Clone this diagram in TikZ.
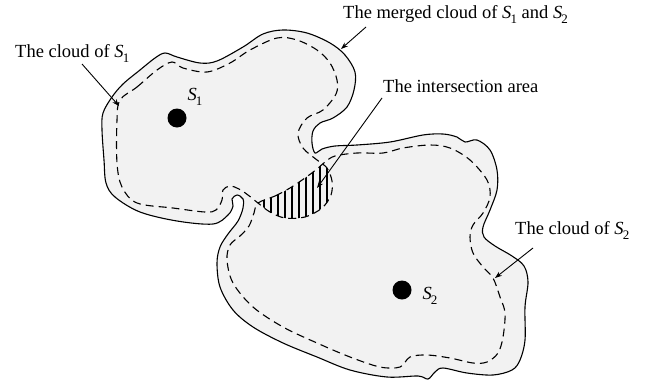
\documentclass[tikz,border=0pt]{standalone}
\usepackage{fontspec}
\setmainfont{Liberation Serif}
\usetikzlibrary{arrows.meta}
\def\SSub#1{\textit{S}\kern-0.8pt\raisebox{-0.28em}{\fontsize{13}{13}\selectfont #1}}
\def\mergedPath{plot[smooth cycle, tension=0.55] coordinates {
(103,113) (112,97) (123,84) (140,70) (155,58) (165,53) (177,57) (200,63) (217,61) (243,47) (263,34) (283,30) (307,33) (330,43) (345,55) (355,72) (354,90) (347,107) (333,118) (320,123) (313,131) (312,143) (315,153) (322,149) (335,146) (357,145) (390,142) (423,135) (443,134) (457,137) (465,142) (477,140) (490,150) (497,170) (497,190) (490,210) (483,227) (484,237) (495,246) (512,256) (524,266) (528,282) (525,307) (525,340) (520,360) (512,370) (493,375) (467,373) (443,368) (435,372) (428,379) (418,376) (387,377) (350,370) (317,357) (283,343) (253,327) (233,310) (220,287) (217,263) (220,247) (228,234) (238,221) (243,208) (243,199) (237,195) (232,199) (233,206) (228,215) (213,224) (177,221) (140,212) (115,197) (106,183) (104,160) (102,130)}}
\def\cloudOne{plot[smooth cycle, tension=0.55] coordinates {
(120,100) (137,87) (157,70) (172,62) (183,68) (207,72) (230,63) (250,50) (277,38) (297,40) (317,50) (330,63) (337,80) (336,94) (323,110) (307,118) (298,133) (303,148) (317,160) (327,168) (332,181) (331,195) (322,208) (305,217) (285,218) (270,212) (258,203) (248,195) (239,189) (230,186) (223,190) (222,200) (216,210) (205,212) (173,208) (137,203) (122,187) (117,163) (117,120)}}
\def\cloudTwo{plot[smooth cycle, tension=0.55] coordinates {
(258,203) (275,196) (290,188) (305,178) (317,169) (325,162) (335,156) (357,153) (383,153) (403,148) (430,145) (450,148) (470,160) (487,180) (490,197) (483,213) (473,225) (470,237) (473,253) (483,267) (493,278) (500,297) (505,313) (503,337) (498,353) (487,362) (473,363) (450,358) (427,355) (410,357) (400,367) (380,367) (350,357) (317,343) (283,327) (253,307) (233,283) (227,260) (230,245) (240,236) (249,226) (254,213)}}
\begin{document}
\begin{tikzpicture}[x=1pt,y=-1pt,
  outline/.style={line width=1.1pt},
  dashline/.style={line width=1.1pt, dash pattern=on 8pt off 5pt},
  hatchline/.style={line width=1.1pt},
  arr/.style={line width=0.9pt, -{Stealth[length=7pt,width=5pt]}},
  lbl/.style={font=\fontsize{18.5}{21}\selectfont, inner sep=0pt, anchor=base west},
  dot/.style={circle, fill=black, minimum size=19pt, inner sep=0pt}]
\useasboundingbox (0,0) rectangle (652,383);
\fill[fill={rgb,255:red,242;green,242;blue,242}] \mergedPath;
\draw[dashline] \cloudOne;
\draw[dashline] \cloudTwo;
\begin{scope}
  \clip \cloudOne;
  \clip \cloudTwo;
  \foreach \xx in {264,271,...,336} \draw[hatchline] (\xx,140) -- (\xx,230);
\end{scope}
\draw[outline] \mergedPath;
% points
\node[dot] (p1) at (177,118) {};
\node[dot] (p2) at (402,290) {};
\node[font=\fontsize{18.5}{21}\selectfont, inner sep=0pt] (l1) at (195,97) {\SSub{1}};
\node[font=\fontsize{18.5}{21}\selectfont, inner sep=0pt] (l2) at (430,296) {\SSub{2}};
% labels
\node[lbl] (t1) at (15,57) {The cloud of \SSub{1}};
\node[lbl] (t2) at (343,18) {The merged cloud of \SSub{1} and \SSub{2}};
\node[lbl] (t3) at (383,92) {The intersection area};
\node[lbl] (t4) at (515,234) {The cloud of \SSub{2}};
% arrows
\coordinate (a1s) at (82,64);  \coordinate (a1t) at (119,106);
\coordinate (a2s) at (366,27); \coordinate (a2t) at (341,49);
\coordinate (a3s) at (382,98); \coordinate (a3t) at (317,188);
\coordinate (a4s) at (533,248); \coordinate (a4t) at (495,278);
\draw[arr] (a1s) -- (a1t);
\draw[arr] (a2s) -- (a2t);
\draw[arr] (a3s) -- (a3t);
\draw[arr] (a4s) -- (a4t);
\end{tikzpicture}
\end{document}
